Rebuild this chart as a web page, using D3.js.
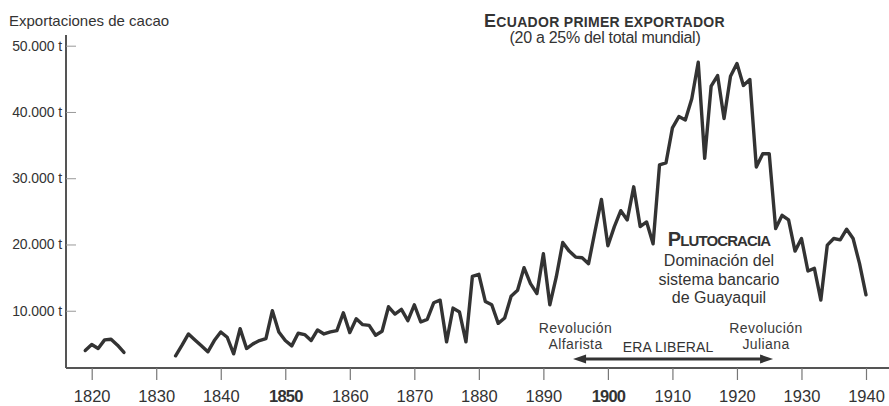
<!DOCTYPE html>
<html>
<head>
<meta charset="utf-8">
<script src="https://cdn.jsdelivr.net/npm/d3@7"></script>
<style>
  html, body { margin: 0; padding: 0; background: #fff; }
  svg { display: block; font-family: "Liberation Sans", Arial, sans-serif; }
</style>
</head>
<body>
<svg id="chart" width="889" height="406"></svg>
<script>
// Ecuador cocoa exports, tonnes per year (gap 1826–1832 has no records)
const earlyYears = [1819, 1820, 1821, 1822, 1823, 1824, 1825];
const earlyValues = [4000, 4900, 4300, 5600, 5700, 4800, 3700];

const mainStart = 1833;
const mainValues = [
  3200, 4800, 6500, 5600, 4700, 3800, 5500,             // 1833–1839
  6800, 6000, 3500, 7300, 4300, 5000, 5500, 5800, 10000, 6800, // 1840–1849
  5500, 4700, 6600, 6400, 5500, 7100, 6500, 6800, 7000, 9700,  // 1850–1859
  6700, 8800, 7900, 7800, 6300, 6900, 10600, 9500, 10200, 8500, // 1860–1869
  10900, 8300, 8700, 11200, 11600, 5300, 10400, 9800, 5300, 15200, // 1870–1879
  15500, 11400, 10900, 8100, 8900, 12200, 13100, 16500, 14100, 12600, // 1880–1889
  18600, 10900, 15100, 20300, 19000, 18100, 18000, 17100, 22000, 26800, // 1890–1899
  19800, 22700, 25100, 23700, 28700, 22700, 23400, 20100, 32000, 32300, // 1900–1909
  37600, 39300, 38800, 42000, 47500, 33000, 43900, 45500, 39000, 45400, // 1910–1919
  47300, 44000, 44900, 31700, 33700, 33700, 22400, 24400, 23700, 19000, // 1920–1929
  20900, 16000, 16400, 11600, 19900, 20900, 20700, 22300, 20900, 17100, // 1930–1939
  12400                                                                  // 1940
];
const mainYears = mainValues.map((_, i) => mainStart + i);

const yTicks = [10000, 20000, 30000, 40000, 50000];
const xTicks = [1820, 1830, 1840, 1850, 1860, 1870, 1880, 1890, 1900, 1910, 1920, 1930, 1940];
const boldYears = [1850, 1900];

const eraStart = 1894.6, eraEnd = 1925.6;

const svg = d3.select("#chart");
const ink = "#333";

const x = d3.scaleLinear().domain([1820, 1940]).range([91.7, 866]);
const y = d3.scaleLinear().domain([0, 50000]).range([377, 45.7]);

const axisX = 66, baseY = 368;

// frame lines
svg.append("line").attr("x1", axisX).attr("x2", 889).attr("y1", baseY).attr("y2", baseY)
  .attr("stroke", "#555").attr("stroke-width", 2);
svg.append("line").attr("x1", axisX).attr("x2", axisX).attr("y1", 35).attr("y2", baseY)
  .attr("stroke", "#555").attr("stroke-width", 2);

// y axis
const yAxis = svg.append("g").attr("transform", `translate(${axisX},0)`)
  .call(d3.axisLeft(y).tickValues(yTicks).tickSizeInner(-10).tickSizeOuter(0).tickPadding(4)
    .tickFormat(d => d3.format(",")(d).replace(",", ".") + " t"));
yAxis.select(".domain").remove();
yAxis.selectAll(".tick line").attr("stroke", "#999").attr("stroke-width", 1);
yAxis.selectAll(".tick text").attr("fill", ink).attr("font-size", 14)
  .attr("letter-spacing", -0.1).attr("font-family", "Liberation Sans, Arial, sans-serif");

// x axis
const xAxis = svg.append("g").attr("transform", `translate(0,${baseY})`)
  .call(d3.axisBottom(x).tickValues(xTicks).tickSizeInner(12).tickSizeOuter(0).tickPadding(10)
    .tickFormat(d3.format("d")));
xAxis.select(".domain").remove();
xAxis.selectAll(".tick line").attr("stroke", "#777").attr("stroke-width", 1.2);
xAxis.selectAll(".tick text").attr("fill", ink).attr("font-size", 16.5)
  .attr("font-family", "Liberation Sans, Arial, sans-serif")
  .attr("font-weight", d => boldYears.includes(d) ? "bold" : "normal")
  .attr("letter-spacing", d => boldYears.includes(d) ? -0.8 : 0);

// export series
const line = d3.line().x(d => x(d[0])).y(d => y(d[1]));
const seriesStyle = sel => sel.attr("fill", "none").attr("stroke", ink)
  .attr("stroke-width", 3.4).attr("stroke-linejoin", "round").attr("stroke-linecap", "round");

svg.append("path").datum(d3.zip(earlyYears, earlyValues)).attr("d", line).call(seriesStyle);
svg.append("path").datum(d3.zip(mainYears, mainValues)).attr("d", line).call(seriesStyle);

// title
svg.append("text").attr("x", 9).attr("y", 26).attr("fill", ink)
  .attr("font-size", 15).attr("letter-spacing", 0)
  .text("Exportaciones de cacao");

// small-caps headline helper
function smallCaps(xPos, yPos, first, rest, big, small, anchor, spacing) {
  const t = svg.append("text").attr("x", xPos).attr("y", yPos).attr("fill", ink)
    .attr("font-weight", "bold").attr("text-anchor", anchor).attr("letter-spacing", spacing);
  t.append("tspan").attr("font-size", big).text(first);
  t.append("tspan").attr("font-size", small).text(rest);
  return t;
}

smallCaps(484, 27, "E", "CUADOR PRIMER EXPORTADOR", 18, 14, "start", 0.3);
svg.append("text").attr("x", 605).attr("y", 43).attr("text-anchor", "middle").attr("fill", ink)
  .attr("font-size", 16).attr("letter-spacing", -0.3)
  .text("(20 a 25% del total mundial)");

smallCaps(719, 246, "P", "LUTOCRACIA", 20, 15, "middle", -0.9);
["Dominación del", "sistema bancario", "de Guayaquil"].forEach((s, i) => {
  svg.append("text").attr("x", 719).attr("y", 266 + i * 18.5).attr("text-anchor", "middle")
    .attr("fill", ink).attr("font-size", 16).attr("letter-spacing", 0).text(s);
});

// revolutions
const revStyle = sel => sel.attr("text-anchor", "middle").attr("fill", "#3a3a3a")
  .attr("font-size", 14).attr("letter-spacing", 0.4);
svg.append("text").attr("x", 575.5).attr("y", 333).call(revStyle).text("Revolución");
svg.append("text").attr("x", 575.5).attr("y", 349).call(revStyle).text("Alfarista");
svg.append("text").attr("x", 766).attr("y", 333).call(revStyle).text("Revolución");
svg.append("text").attr("x", 766).attr("y", 349).call(revStyle).text("Juliana");

// liberal era arrow
const ax1 = x(eraStart), ax2 = x(eraEnd), ay = 359;
svg.append("line").attr("x1", ax1 + 8).attr("x2", ax2 - 8).attr("y1", ay).attr("y2", ay)
  .attr("stroke", ink).attr("stroke-width", 3);
svg.append("path").attr("d", `M${ax1},${ay} l13,-4.5 l0,9 z`).attr("fill", ink);
svg.append("path").attr("d", `M${ax2},${ay} l-13,-4.5 l0,9 z`).attr("fill", ink);
svg.append("text").attr("x", (ax1 + ax2) / 2 - 5).attr("y", 352).attr("text-anchor", "middle")
  .attr("fill", ink).attr("font-size", 14).attr("letter-spacing", 0.1).text("ERA LIBERAL");
</script>
</body>
</html>
